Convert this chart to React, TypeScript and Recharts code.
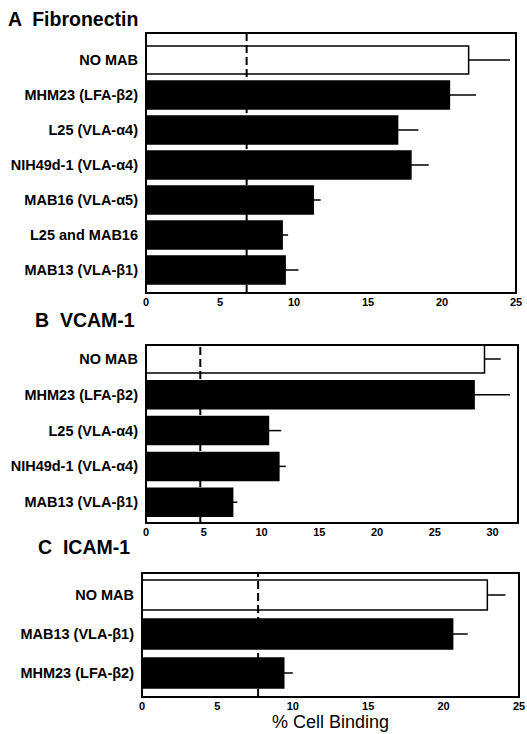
import React from "react";
import { BarChart, Bar, XAxis, YAxis, ErrorBar, Cell, ReferenceLine } from "recharts";

const FONT = "'Liberation Sans', Arial, Helvetica, sans-serif";

// A  Fibronectin
const fnLabels = ["NO MAB", "MHM23 (LFA-β2)", "L25 (VLA-α4)", "NIH49d-1 (VLA-α4)", "MAB16 (VLA-α5)", "L25 and MAB16", "MAB13 (VLA-β1)"];
const fnValues = [21.8, 20.5, 17.0, 17.9, 11.3, 9.2, 9.4];
const fnErrors = [2.8, 1.8, 1.4, 1.2, 0.5, 0.4, 0.9];
const fnBaseline = 6.8;
const fnTicks = [0, 5, 10, 15, 20, 25];

// B  VCAM-1
const vcLabels = ["NO MAB", "MHM23 (LFA-β2)", "L25 (VLA-α4)", "NIH49d-1 (VLA-α4)", "MAB13 (VLA-β1)"];
const vcValues = [29.3, 28.4, 10.6, 11.5, 7.5];
const vcErrors = [1.4, 3.1, 1.1, 0.6, 0.4];
const vcBaseline = 4.7;
const vcTicks = [0, 5, 10, 15, 20, 25, 30];

// C  ICAM-1
const icLabels = ["NO MAB", "MAB13 (VLA-β1)", "MHM23 (LFA-β2)"];
const icValues = [22.9, 20.6, 9.4];
const icErrors = [1.2, 1.0, 0.6];
const icBaseline = 7.7;
const icTicks = [0, 5, 10, 15, 20, 25];

type PanelProps = {
  labels: string[];
  values: number[];
  errors: number[];
  baseline: number;
  ticks: number[];
  max: number;
  top: number;
  height: number;
  margin: { top: number; right: number; bottom: number; left: number };
  yWidth: number;
  padding: { top: number; bottom: number };
  barSize: number;
  xHeight: number;
  xLabel?: string;
};

function Panel(p: PanelProps) {
  const data = p.labels.map((name, i) => ({
    name,
    value: p.values[i],
    err: [0, p.errors[i]],
  }));
  // plot box (frame drawn as a bordered div over the svg)
  const plotW = 527 - p.margin.right - p.yWidth;
  const plotH = p.height - p.margin.top - p.xHeight;
  return (
    <div style={{ position: "absolute", left: 0, top: p.top, width: 527, height: p.height }}>
      <BarChart width={527} height={p.height} data={data} layout="vertical" margin={p.margin}>
        <XAxis
          type="number"
          domain={[0, p.max]}
          ticks={p.ticks}
          allowDataOverflow
          axisLine={false}
          tickLine={false}
          tickSize={0}
          tickMargin={5}
          height={p.xHeight}
          tick={{ fontSize: 11, fontWeight: "bold", fill: "#000", fontFamily: FONT }}
          label={
            p.xLabel
              ? { value: p.xLabel, position: "insideBottom", offset: 6, fontSize: 18, fill: "#000", fontFamily: FONT }
              : undefined
          }
        />
        <YAxis
          type="category"
          dataKey="name"
          width={p.yWidth}
          padding={p.padding}
          axisLine={false}
          tickLine={false}
          tickSize={0}
          tickMargin={8}
          interval={0}
          tick={{ fontSize: 14.5, fontWeight: "bold", fill: "#000", fontFamily: FONT }}
        />
        <ReferenceLine x={p.baseline} stroke="#000" strokeWidth={2} strokeDasharray="8 4" />
        <Bar dataKey="value" barSize={p.barSize} isAnimationActive={false}>
          {data.map((d, i) => (
            <Cell key={d.name} fill={i === 0 ? "#fff" : "#000"} stroke="#000" strokeWidth={1.5} />
          ))}
          <ErrorBar dataKey="err" direction="x" width={0} stroke="#000" strokeWidth={1.5} />
        </Bar>
      </BarChart>
      <div
        style={{
          position: "absolute",
          left: p.yWidth - 1,
          top: p.margin.top - 1,
          width: plotW + 2,
          height: plotH + 2,
          border: "2px solid #000",
          boxSizing: "border-box",
          pointerEvents: "none",
        }}
      />
    </div>
  );
}

const titleStyle: React.CSSProperties = {
  position: "absolute",
  fontFamily: FONT,
  fontWeight: "bold",
  fontSize: 19.5,
  lineHeight: "22px",
  whiteSpace: "pre",
  color: "#000",
};

export default function App() {
  return (
    <div style={{ position: "absolute", left: 0, top: 0, width: 527, height: 734, background: "#fff", overflow: "hidden" }}>
      <div style={{ ...titleStyle, left: 8, top: 8 }}>{"A  Fibronectin"}</div>
      <Panel
        labels={fnLabels}
        values={fnValues}
        errors={fnErrors}
        baseline={fnBaseline}
        ticks={fnTicks}
        max={25}
        top={0}
        height={318}
        margin={{ top: 33, right: 11, bottom: 0, left: 0 }}
        yWidth={146}
        padding={{ top: 9, bottom: 6 }}
        barSize={28}
        xHeight={25}
      />
      <div style={{ ...titleStyle, left: 35, top: 309 }}>{"B  VCAM-1"}</div>
      <Panel
        labels={vcLabels}
        values={vcValues}
        errors={vcErrors}
        baseline={vcBaseline}
        ticks={vcTicks}
        max={32.2}
        top={300}
        height={248}
        margin={{ top: 45, right: 9, bottom: 0, left: 0 }}
        yWidth={146}
        padding={{ top: -4, bottom: 3 }}
        barSize={28}
        xHeight={25}
      />
      <div style={{ ...titleStyle, left: 38, top: 536 }}>{"C  ICAM-1"}</div>
      <Panel
        labels={icLabels}
        values={icValues}
        errors={icErrors}
        baseline={icBaseline}
        ticks={icTicks}
        max={25}
        top={550}
        height={184}
        margin={{ top: 23, right: 8, bottom: 0, left: 0 }}
        yWidth={142}
        padding={{ top: 2, bottom: 5 }}
        barSize={30}
        xHeight={37}
        xLabel="% Cell Binding"
      />
    </div>
  );
}
